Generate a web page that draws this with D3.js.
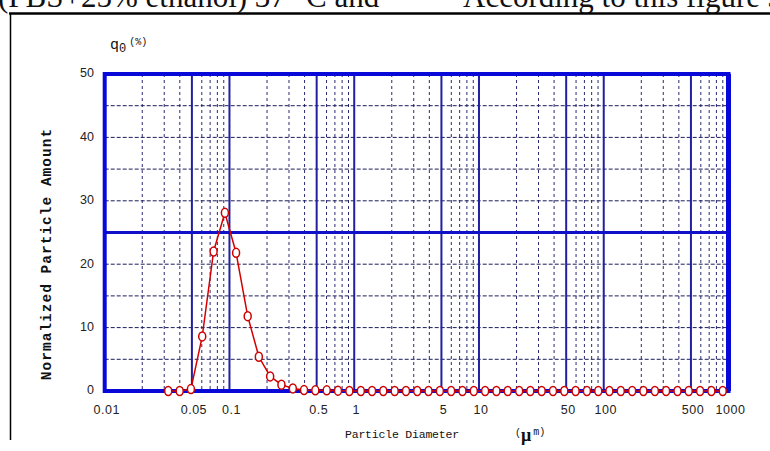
<!DOCTYPE html>
<html>
<head>
<meta charset="utf-8">
<style>
    body { margin: 0; background-color: #fff; }
    svg { display: block; background-color: #fff; }
    .tick-lbl { font-family: "Liberation Sans", Arial, sans-serif; font-size: 12.5px; fill: #222; }
    .mono { font-family: "Liberation Mono", "Courier New", monospace; fill: #111; }
</style>
<script src="https://d3js.org/d3.v7.min.js"></script>
</head>
<body>
<div id="chart"></div>
<script>
// particle size bins (um)
var diameters = [0.0323, 0.0399, 0.0491, 0.0605, 0.0746, 0.0919, 0.113, 0.140, 0.172, 0.212,
                 0.261, 0.322, 0.396, 0.488, 0.602, 0.741, 0.914, 1.13, 1.39, 1.71,
                 2.11, 2.60, 3.20, 3.94, 4.86, 5.98, 7.37, 9.09, 11.2, 13.8,
                 17.0, 21.0, 25.8, 31.8, 39.2, 48.3, 59.5, 73.3, 90.4, 111,
                 137, 169, 208, 257, 316, 390, 480, 592, 729, 899];
// q0 (%)
var amounts = [0, 0, 0.3, 8.6, 22.0, 28.1, 21.8, 11.8, 5.4, 2.3,
               1.0, 0.4, 0.15, 0.1, 0.1, 0.05, 0, 0, 0, 0,
               0, 0, 0, 0, 0, 0, 0, 0, 0, 0,
               0, 0, 0, 0, 0, 0, 0, 0, 0, 0,
               0, 0, 0, 0, 0, 0, 0, 0, 0, 0];

var xTickLabels = ["0.01", "0.05", "0.1", "0.5", "1", "5", "10", "50", "100", "500", "1000"];
var yTickLabels = [0, 10, 20, 30, 40, 50];
var xMajor = [0.05, 0.1, 0.5, 1, 5, 10, 50, 100, 500];
var xMinor = [0.02, 0.03, 0.04, 0.06, 0.07, 0.08, 0.09,
              0.2, 0.3, 0.4, 0.6, 0.7, 0.8, 0.9,
              2, 3, 4, 6, 7, 8, 9,
              20, 30, 40, 60, 70, 80, 90,
              200, 300, 400, 600, 700, 800, 900];
var yMinor = [5, 10, 15, 20, 30, 35, 40, 45];
var yMajor = [25];

var W = 770, H = 451;
var svg = d3.select("#chart").append("svg").attr("width", W).attr("height", H);

// cut-off text of the page above the figure
svg.append("text").attr("x", -2).attr("y", 7)
    .style("font-family", "'Liberation Serif', 'Times New Roman', serif").style("font-size", "31px").style("fill", "#111")
    .text("(PBS+25% ethanol) 37 \u00b0C and");
svg.append("text").attr("x", 463).attr("y", 7)
    .style("font-family", "'Liberation Serif', 'Times New Roman', serif").style("font-size", "31px").style("fill", "#111")
    .text("According to this figure sh");

// figure frame
svg.append("line").attr("x1", 9).attr("x2", W).attr("y1", 13.5).attr("y2", 13.5)
    .attr("stroke", "#000").attr("stroke-width", 2.5);
svg.append("line").attr("x1", 10.5).attr("x2", 10.5).attr("y1", 13).attr("y2", 440)
    .attr("stroke", "#000").attr("stroke-width", 1.5);

var x = d3.scaleLog().domain([0.01, 1000]).range([104.7, 728.5]);
var y = d3.scaleLinear().domain([0, 50]).range([391, 74]);

var grid = svg.append("g");

grid.selectAll(".vminor").data(xMinor).enter().append("line")
    .attr("x1", function (d) { return x(d); }).attr("x2", function (d) { return x(d); })
    .attr("y1", y(50)).attr("y2", y(0))
    .attr("stroke", "#2a2a70").attr("stroke-width", 1).attr("stroke-dasharray", "3,3");

grid.selectAll(".hminor").data(yMinor).enter().append("line")
    .attr("x1", x(0.01)).attr("x2", x(1000))
    .attr("y1", function (d) { return y(d); }).attr("y2", function (d) { return y(d); })
    .attr("stroke", "#1c1c5a").attr("stroke-width", 1).attr("stroke-dasharray", "4,2");

grid.selectAll(".vmajor").data(xMajor).enter().append("line")
    .attr("x1", function (d) { return x(d); }).attr("x2", function (d) { return x(d); })
    .attr("y1", y(50)).attr("y2", y(0))
    .attr("stroke", "#2020a0").attr("stroke-width", 2);

grid.selectAll(".hmajor").data(yMajor).enter().append("line")
    .attr("x1", x(0.01)).attr("x2", x(1000))
    .attr("y1", function (d) { return y(d); }).attr("y2", function (d) { return y(d); })
    .attr("stroke", "#1010c8").attr("stroke-width", 3);

// thick plot border
svg.append("rect")
    .attr("x", x(0.01)).attr("y", y(50))
    .attr("width", x(1000) - x(0.01)).attr("height", y(0) - y(50))
    .attr("fill", "none").attr("stroke", "#0808d8").attr("stroke-width", 4);
svg.append("line").attr("x1", x(1000)).attr("x2", x(1000)).attr("y1", y(50)).attr("y2", y(0))
    .attr("stroke", "#0808d8").attr("stroke-width", 5);

// tick labels
svg.selectAll(".xl").data(xTickLabels).enter().append("text")
    .attr("class", "tick-lbl")
    .attr("x", function (d) { return x(+d) + 2; }).attr("y", 414)
    .attr("text-anchor", "middle")
    .style("letter-spacing", "0.5px")
    .text(function (d) { return d; });

svg.selectAll(".yl").data(yTickLabels).enter().append("text")
    .attr("class", "tick-lbl")
    .attr("x", 94).attr("y", function (d) { return y(d) - 1; })
    .attr("dy", "0.35em").attr("text-anchor", "end")
    .text(function (d) { return d; });

// axis titles
svg.append("text").attr("class", "mono")
    .attr("transform", "translate(51,254) rotate(-90)")
    .attr("text-anchor", "middle")
    .style("font-size", "14.5px").style("font-weight", "bold").style("letter-spacing", "1px")
    .text("Normalized Particle Amount");

svg.append("text").attr("class", "mono").attr("x", 345).attr("y", 438)
    .style("font-size", "11.5px").style("letter-spacing", "-0.2px")
    .text("Particle Diameter");

var unit = svg.append("text").attr("class", "mono").attr("x", 515).attr("y", 441);
unit.append("tspan").style("font-size", "10px").attr("dy", -5).text("(");
unit.append("tspan").style("font-family", "'Liberation Serif', serif").style("font-size", "18px").style("font-weight", "bold").attr("dy", 5).text("\u03bc");
unit.append("tspan").style("font-size", "10px").attr("dy", -6).attr("dx", 2).text("m)");

var ql = svg.append("text").attr("class", "mono").attr("x", 110).attr("y", 49);
ql.append("tspan").style("font-size", "15px").text("q");
ql.append("tspan").style("font-size", "12px").attr("dy", 3).text("0");
ql.append("tspan").style("font-size", "10px").attr("dy", -7).attr("dx", 3).text("(%)");

// data series
var pts = diameters.map(function (d, i) { return { d: d, v: amounts[i] }; });

var line = d3.line()
    .x(function (p) { return x(p.d); })
    .y(function (p) { return y(p.v); });

svg.append("path").datum(pts)
    .attr("d", line)
    .attr("fill", "none").attr("stroke", "#d40000").attr("stroke-width", 1.5);

svg.selectAll(".pt").data(pts).enter().append("ellipse")
    .attr("cx", function (p) { return x(p.d); })
    .attr("cy", function (p) { return y(p.v); })
    .attr("rx", 3.5).attr("ry", 4.5)
    .attr("fill", "#fff").attr("stroke", "#cc0000").attr("stroke-width", 1.5);
</script>
</body>
</html>
